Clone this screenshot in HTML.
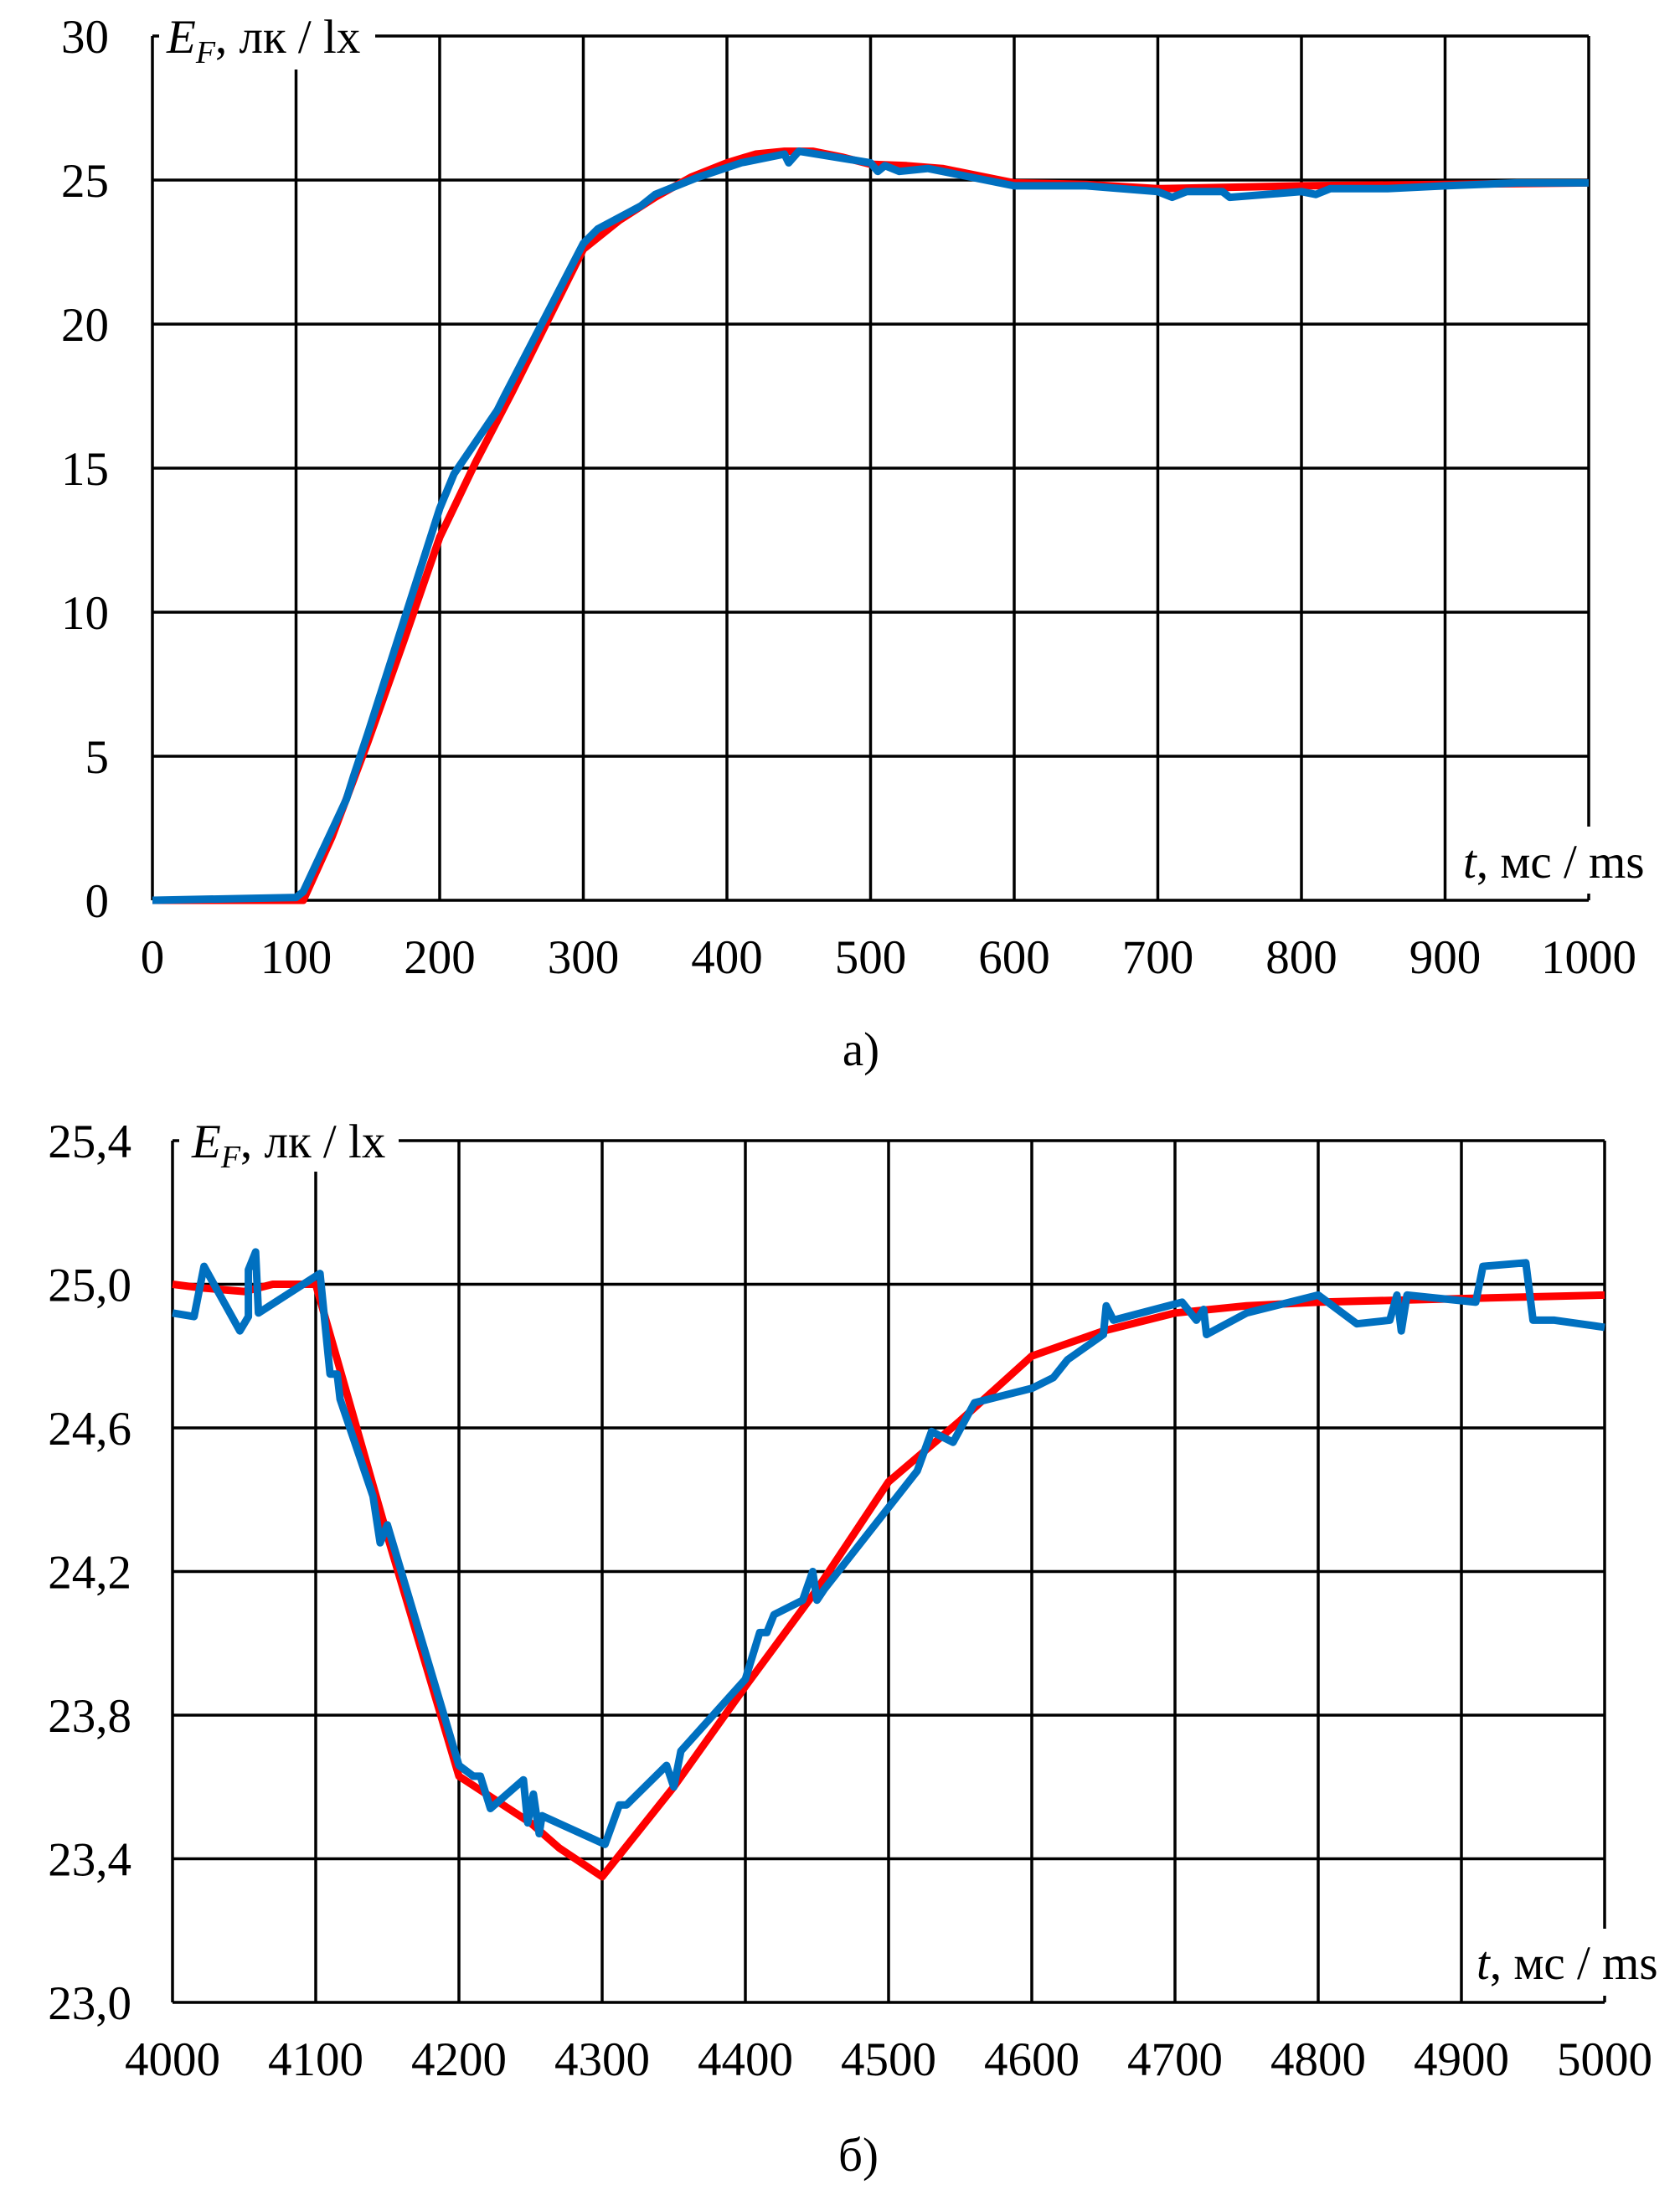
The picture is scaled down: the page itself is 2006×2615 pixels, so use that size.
<!DOCTYPE html>
<html><head><meta charset="utf-8"><style>
html,body{margin:0;padding:0;background:#fff;}
svg{display:block;font-family:"Liberation Serif",serif;}
</style></head><body>
<svg id="s" width="2006" height="2615" viewBox="0 0 2006 2615" xmlns="http://www.w3.org/2000/svg">
<rect width="2006" height="2615" fill="#fff"/>
<g id="g"></g>
</svg>
<script>
const NS="http://www.w3.org/2000/svg",G=document.getElementById('g');
function el(t,a,txt){const e=document.createElementNS(NS,t);for(const k in a)e.setAttribute(k,a[k]);if(txt!==undefined)e.textContent=txt;G.appendChild(e);return e;}
function chart(c){
 const X=v=>c.x0+(v-c.xmin)/(c.xmax-c.xmin)*(c.x1-c.x0);
 const Y=v=>c.y1-(v-c.ymin)/(c.ymax-c.ymin)*(c.y1-c.y0);
 for(let i=0;i<=10;i++){const x=c.x0+i*(c.x1-c.x0)/10;el('line',{x1:x,x2:x,y1:c.y0,y2:c.y1,stroke:'#000','stroke-width':3.5});
  el('text',{x:x,y:c.y1+87,'font-size':57,'text-anchor':'middle'},c.xl[i]);}
 for(let j=0;j<=6;j++){const y=c.y0+j*(c.y1-c.y0)/6;el('line',{x1:c.x0,x2:c.x1,y1:y,y2:y,stroke:'#000','stroke-width':3.5});
  el('text',{x:c.yx,y:y+20,'font-size':57,'text-anchor':'end'},c.yl[j]);}
 el('rect',{x:c.x0+8,y:c.y0-15,width:c.bw,height:c.bh,fill:'#fff'});
 el('rect',{x:c.tx-8,y:c.y1-c.th,width:240,height:c.th-8,fill:'#fff'});
 const p=d=>d.map(q=>X(q[0]).toFixed(1)+','+Y(q[1]).toFixed(1)).join(' ');
 el('polyline',{points:p(c.red),fill:'none',stroke:'#ff0000','stroke-width':9,'stroke-linejoin':'round'});
 el('polyline',{points:p(c.blue),fill:'none',stroke:'#0070c0','stroke-width':9,'stroke-linejoin':'round'});
 const t=el('text',{x:c.ex,y:c.y0+20,'font-size':57});
 t.innerHTML='<tspan font-style="italic">E</tspan><tspan font-style="italic" font-size="38" dy="12">F</tspan><tspan dy="-12">, лк / lx</tspan>';
 const t2=el('text',{x:c.tx,y:c.y1-c.tb,'font-size':57});
 t2.innerHTML='<tspan font-style="italic">t</tspan>, мс / ms';
 el('text',{x:c.cx,y:c.cy,'font-size':57,'text-anchor':'middle'},c.cap);
}
chart({x0:182,x1:1897,y0:43,y1:1075,xmin:0,xmax:1000,ymin:0,ymax:30,yx:130,
 xl:['0','100','200','300','400','500','600','700','800','900','1000'],yl:['30','25','20','15','10','5','0'],
 bw:258,bh:55,ex:199,tx:1747,th:88,tb:27,cx:1028,cy:1272,cap:'а)',
 red:[[0,0],[100,0],[105,0],[125,2.2],[150,5.5],[175,9],[200,12.6],[225,15.2],[250,17.6],[275,20.1],[300,22.6],[325,23.6],[350,24.4],[375,25.1],[400,25.6],[420,25.9],[440,26],[460,26],[480,25.8],[500,25.55],[525,25.5],[550,25.4],[575,25.15],[600,24.9],[650,24.85],[700,24.7],[750,24.75],[800,24.8],[900,24.85],[1000,24.9]],
 blue:[[0,0],[100,0.1],[105,0.3],[135,3.5],[140,4.3],[150,5.8],[200,13.6],[210,14.8],[240,17],[245,17.5],[300,22.8],[310,23.3],[340,24.1],[350,24.5],[380,25.1],[410,25.6],[440,25.9],[443,25.6],[450,26],[500,25.6],[505,25.3],[510,25.5],[520,25.3],[540,25.4],[560,25.2],[600,24.8],[650,24.8],[700,24.6],[710,24.4],[720,24.6],[745,24.6],[750,24.4],[800,24.6],[810,24.5],[820,24.7],[860,24.7],[900,24.8],[950,24.9],[1000,24.9]]});
chart({x0:206,x1:1916,y0:1362,y1:2391,xmin:4000,xmax:5000,ymin:23,ymax:25.4,yx:157,
 xl:['4000','4100','4200','4300','4400','4500','4600','4700','4800','4900','5000'],yl:['25,4','25,0','24,6','24,2','23,8','23,4','23,0'],
 bw:262,bh:52,ex:229,tx:1763,th:88,tb:28,cx:1025,cy:2592,cap:'б)',
 red:[[4000,25.0],[4020,24.99],[4050,24.98],[4070,25.0],[4100,25.0],[4150,24.3],[4200,23.63],[4250,23.5],[4270,23.43],[4300,23.35],[4350,23.6],[4400,23.88],[4450,24.15],[4500,24.45],[4550,24.62],[4600,24.8],[4650,24.87],[4700,24.92],[4750,24.94],[4800,24.95],[4900,24.96],[5000,24.97]],
 blue:[[4000,24.92],[4015,24.91],[4022,25.05],[4047,24.87],[4053,24.91],[4053,25.04],[4058,25.09],[4060,24.92],[4103,25.03],[4110,24.75],[4115,24.75],[4117,24.68],[4140,24.41],[4145,24.28],[4150,24.33],[4200,23.66],[4210,23.63],[4215,23.63],[4222,23.54],[4245,23.62],[4248,23.5],[4252,23.58],[4256,23.47],[4258,23.52],[4302,23.44],[4312,23.55],[4317,23.55],[4345,23.66],[4350,23.6],[4355,23.7],[4400,23.9],[4410,24.03],[4415,24.03],[4420,24.08],[4440,24.12],[4447,24.2],[4450,24.12],[4455,24.15],[4520,24.48],[4530,24.59],[4535,24.58],[4545,24.56],[4560,24.67],[4600,24.71],[4615,24.74],[4625,24.79],[4650,24.86],[4652,24.94],[4657,24.9],[4705,24.95],[4715,24.9],[4720,24.93],[4722,24.86],[4750,24.92],[4800,24.97],[4827,24.89],[4850,24.9],[4855,24.97],[4858,24.87],[4862,24.97],[4910,24.95],[4915,25.05],[4945,25.06],[4950,24.9],[4965,24.9],[5000,24.88]]});
</script>
</body></html>
